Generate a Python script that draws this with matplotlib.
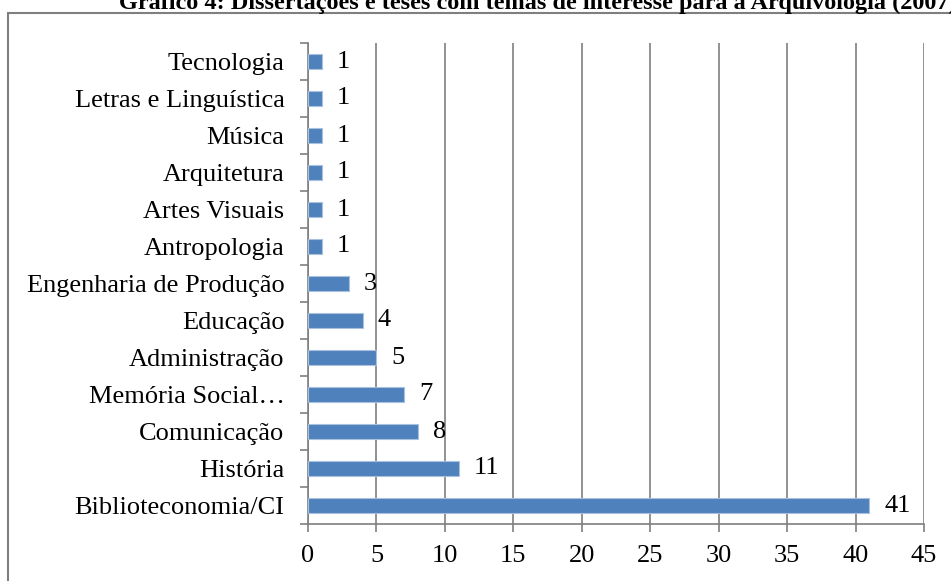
import matplotlib
matplotlib.use('Agg')
import matplotlib.pyplot as plt
from matplotlib.patches import Rectangle
import numpy as np

# data, bottom to top as drawn
categories = ["Biblioteconomia/CI", "História", "Comunicação", "Memória Social…",
              "Administração", "Educação", "Engenharia de Produção", "Antropologia",
              "Artes Visuais", "Arquitetura", "Música", "Letras e Linguística", "Tecnologia"]
values = [41, 11, 8, 7, 5, 4, 3, 1, 1, 1, 1, 1, 1]
xticks = [0, 5, 10, 15, 20, 25, 30, 35, 40, 45]
title = "Gráfico 4: Dissertações e teses com temas de interesse para a Arquivologia (2007)"

plt.rcParams['font.family'] = ['Liberation Serif', 'DejaVu Serif']

W, H = 951, 581
fig = plt.figure(figsize=(W / 100, H / 100), dpi=100)
ax = fig.add_axes([308 / W, 1 - 524 / H, (924 - 308) / W, (524 - 43) / H])

# outer frame of the chart object (runs off the right and bottom edges)
fig.patches.append(Rectangle((8 / W, -0.1), 1.2, 1 - 13 / H + 0.1, transform=fig.transFigure,
                             fill=False, edgecolor='#7f7f7f', linewidth=1.5))

fig.text(538 / W, 1 - 8.5 / H, title, ha='center', va='baseline', fontsize=17.5, fontweight='bold')

y = np.arange(len(categories))
ax.barh(y, values, height=0.38, color='#4F81BD', edgecolor='#a9c0de', linewidth=0.8, zorder=3)
for yi, v in zip(y, values):
    ax.text(v + 1.1, yi, str(v), ha='left', va='center', fontsize=19)

ax.set_xlim(0, 45)
ax.set_ylim(-0.5, len(categories) - 0.5)
ax.set_xticks(xticks)
ax.set_yticks(y)
ax.set_yticklabels(categories, fontsize=19)
ax.set_yticks(np.arange(-0.5, len(categories), 1), minor=True)
ax.tick_params(axis='y', which='major', length=0, pad=17)
ax.tick_params(axis='y', which='minor', length=6, color='#7f7f7f', width=1.2)
ax.tick_params(axis='x', length=6, color='#7f7f7f', width=1.2, labelsize=19, pad=9)

ax.grid(axis='x', color='#7f7f7f', linewidth=1.2, zorder=0)
ax.set_axisbelow(True)
for s in ['top', 'right']:
    ax.spines[s].set_visible(False)
for s in ['left', 'bottom']:
    ax.spines[s].set_color('#7f7f7f')
    ax.spines[s].set_linewidth(1.2)

fig.savefig('out.png', dpi=100)
